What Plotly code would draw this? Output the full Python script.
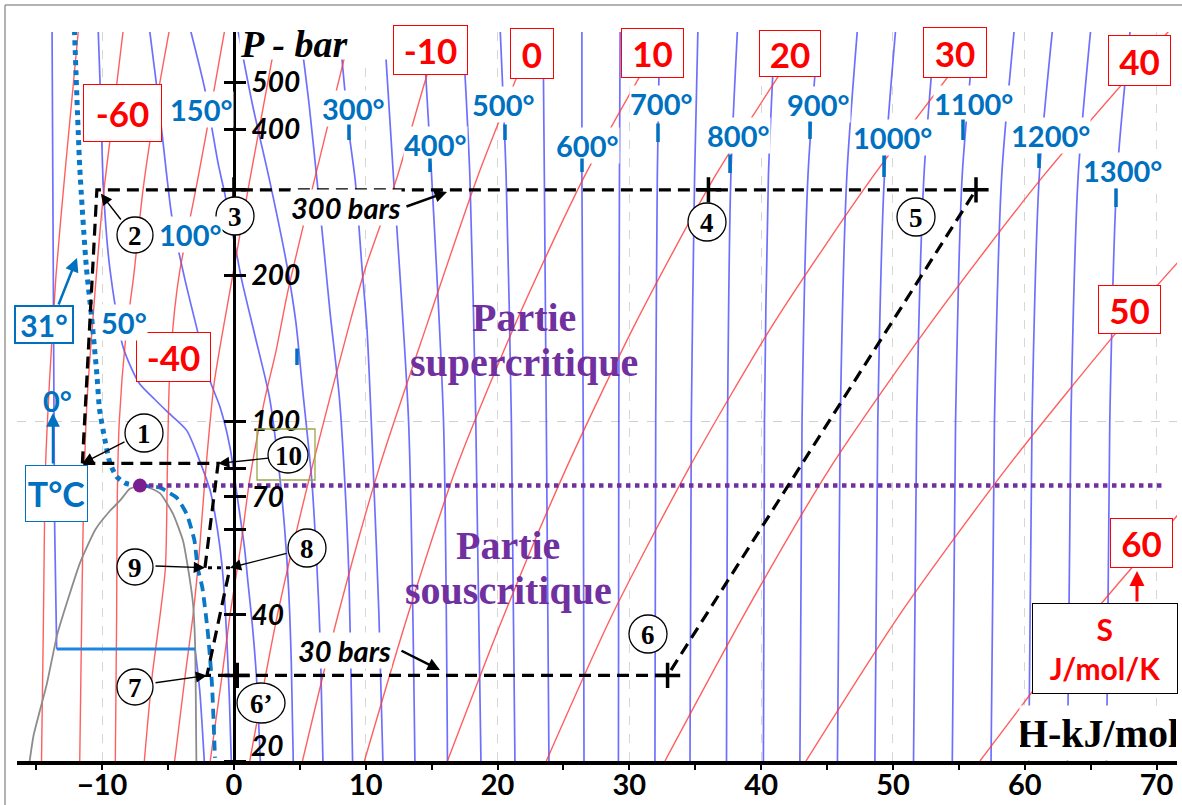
import numpy as np
import plotly.graph_objects as go

# ---------------- figure geometry ----------------
W, HF = 1182, 805
M_L, M_R, M_T, M_B = 17, 5, 32, 44
X_MIN, X_MAX = -16.46, 71.55
LOGP_MIN, LOGP_MAX = np.log10(20.0), 2.802

# ---------------- data ----------------
# hot isotherms (deg C): enthalpy (kJ/mol) at the pressures of hot_P (bar)
hot_T = [350, 400, 450, 500, 550, 600, 650, 700, 750, 800, 850, 900, 950, 1000,
         1050, 1100, 1150, 1200, 1250, 1300]
hot_P = [20, 100, 320, 640]
hot_H = [
    [13.73, 13.25, 12.1, 11.4],
    [16.2, 15.9, 15.0, 14.35],
    [18.74, 18.35, 17.9, 17.35],
    [21.32, 21.05, 20.65, 20.2],
    [23.9, 23.7, 23.55, 23.45],
    [26.56, 26.5, 26.4, 26.4],
    [29.17, 29.2, 29.25, 29.3],
    [31.94, 32.0, 32.12, 32.3],
    [34.6, 34.7, 34.95, 35.2],
    [37.37, 37.45, 37.7, 38.2],
    [40.17, 40.25, 40.55, 41.05],
    [42.94, 43.1, 43.55, 44.35],
    [45.79, 46.0, 46.5, 47.3],
    [48.63, 48.85, 49.35, 50.2],
    [51.56, 51.8, 52.35, 53.2],
    [54.5, 54.75, 55.25, 56.2],
    [57.44, 57.7, 58.25, 59.2],
    [60.3, 60.55, 61.1, 62.1],
    [63.24, 63.5, 64.05, 65.0],
    [66.2, 66.45, 67.0, 68.0],
]

iso50_P = [640, 450, 300, 205, 142, 120, 111, 105, 96, 83, 72, 64.6, 55, 47, 36, 27, 20]
iso50_H = [-10.3, -10.1, -9.9, -9.4, -8.4, -7.2, -6.0, -5.1, -3.6, -2.6, -1.8, -1.45, -1.06, -0.8, -0.55, -0.35, -0.2]
iso100_P = [640, 500, 380, 263, 195, 155, 121, 107, 88.5, 70, 55, 47, 38, 30, 20]
iso100_H = [-6.4, -5.9, -5.4, -4.7, -3.7, -2.8, -1.8, -1.05, -0.3, 0.25, 0.8, 1.05, 1.4, 1.7, 2.0]
iso150_P = [640, 482, 340, 295, 229, 195, 150, 112, 76, 60, 45, 32, 20]
iso150_H = [-3.3, -2.2, -1.2, -0.7, 0.1, 0.6, 1.6, 2.7, 3.5, 3.85, 4.15, 4.35, 4.5]
iso200_P = [640, 450, 314, 211, 160, 117, 76, 50, 35, 20]
iso200_H = [0.3, 1.4, 2.7, 4.0, 4.7, 5.2, 5.9, 6.3, 6.55, 6.75]
iso250_P = [640, 450, 314, 230, 167, 112, 76, 50, 20]
iso250_H = [5.0, 5.7, 6.3, 6.8, 7.3, 8.0, 8.4, 8.7, 9.0]
iso300_P = [640, 400, 314, 210, 154, 76, 40, 20]
iso300_H = [8.0, 8.7, 9.2, 9.7, 10.1, 10.6, 11.0, 11.3]

iso0_liq_P = [34, 60, 100, 640]
iso0_liq_H = [-13.45, -13.6, -13.65, -13.8]
iso0_vap_P = [34, 28, 20]
iso0_vap_H = [-2.95, -2.6, -2.25]
iso0_mix_P = [34, 34]
iso0_mix_H = [-13.45, -2.95]

iso31_sup_P = [640, 334, 208, 164, 125, 106, 92, 82, 77, 74.6, 73.8]
iso31_sup_H = [-12.1, -11.7, -11.2, -10.8, -10.4, -10.2, -9.8, -9.4, -8.9, -8.2, -7.13]
iso31_sub_P = [73.8, 73.1, 71.3, 69.7, 64.6, 56.9, 50, 45.5, 36.5, 28.8, 20.3]
iso31_sub_H = [-7.13, -5.6, -4.9, -4.35, -3.6, -3.0, -2.75, -2.4, -1.97, -1.67, -1.44]

dome_left_P = [20, 22.6, 28.8, 36.5, 43, 51, 60, 65.5, 68.7, 72.7, 73.8]
dome_left_H = [-15.5, -15.2, -14.2, -13.4, -12.6, -11.7, -10.5, -9.4, -8.65, -7.9, -7.13]
dome_right_P = [73.8, 72.8, 71.1, 64.6, 56.9, 50, 42, 35, 28, 20]
dome_right_H = [-7.13, -6.3, -5.6, -4.63, -3.87, -3.49, -3.1, -2.95, -2.9, -2.85]
crit_H, crit_P = [-7.13], [73.8]
pc_line_H = [-7.13, 70.4]
pc_line_P = [73.8, 73.8]

# isentropes (J/mol/K)
sm70_P = [20, 40, 80, 120, 200, 330, 640]
sm70_H = [-14.6, -14.45, -14.3, -14.0, -13.5, -12.8, -11.8]
sm60_P = [20, 40, 70, 110, 150, 285, 390, 640]
sm60_H = [-11.7, -11.55, -11.4, -11.15, -10.8, -9.95, -9.35, -8.4]
sm50_P = [20, 40, 70, 100, 150, 200, 300, 420, 640]
sm50_H = [-9.0, -8.9, -8.85, -8.7, -8.2, -7.6, -6.9, -6.1, -4.9]
sm40_P = [20, 30, 40, 50, 80, 121, 170, 205, 300, 420, 640]
sm40_H = [-6.8, -6.2, -5.6, -5.2, -5.05, -4.9, -4.5, -4.1, -2.9, -1.9, -0.7]
sm30_P = [20, 30, 40, 55, 76, 120, 186, 314, 640]
sm30_H = [-4.5, -3.7, -3.1, -2.6, -2.2, -1.5, -0.3, 1.2, 3.3]
sm20_P = [20, 30, 40, 55, 76, 110, 140, 186, 314, 640]
sm20_H = [-1.8, -0.9, -0.3, 0.5, 1.2, 2.3, 3.2, 4.1, 6.1, 8.9]
sm10_P = [20, 40, 80, 160, 208, 320, 512, 640]
sm10_H = [1.2, 3.3, 5.9, 8.8, 10.0, 12.4, 14.6, 15.8]
gas_S = [0, 10, 20, 30, 40, 50, 60]
gas_P = [20, 40, 80, 160, 320, 640]
gas_H = [
    [5.2, 7.9, 11.0, 14.7, 18.5, 22.9],
    [9.9, 13.2, 16.85, 21.4, 26.6, 32.8],
    [16.2, 20.5, 25.2, 30.5, 36.5, 43.6],
    [23.7, 28.7, 34.5, 41.0, 48.5, 56.9],
    [32.7, 38.7, 45.2, 52.9, 61.4, 71.0],
    [43.4, 50.5, 58.6, 67.6, 77.5],
    [56.6, 65.1, 74.7],
]

# cycle points
cyc_name = ['1', '2', '3', '4', '5', '6', "6'", '7', '8', '9', '10']
cyc_H = [-11.5, -10.4, 0.0, 36.0, 56.3, 32.9, 0.25, -2.05, -0.3, -2.2, -1.2]
cyc_P = [82, 300, 300, 300, 300, 30, 30, 30, 50, 50, 82]
cross_pts = ['3', '4', '5', '6', "6'"]

# axis ticks
x_ticks = [-10, 0, 10, 20, 30, 40, 50, 60, 70]
y_ticks = [20, 40, 60, 70, 80, 100, 200, 400, 500]
y_ticktext = ['', '40', '', '70', '', '100', '200', '400', '500']

# ---------------- helpers ----------------
def data_px(h, p):
    xp = M_L + (h - X_MIN) / (X_MAX - X_MIN) * (W - M_L - M_R)
    yp = M_T + (LOGP_MAX - np.log10(p)) / (LOGP_MAX - LOGP_MIN) * (HF - M_T - M_B)
    return xp, yp

def paper(xp, yp):
    return (xp - M_L) / (W - M_L - M_R), (HF - M_B - yp) / (HF - M_T - M_B)

def pt(name):
    i = cyc_name.index(name)
    return cyc_H[i], cyc_P[i]

fig = go.Figure()

def add_line(h, p, color, width, dash='solid', shape='spline', smoothing=0.7):
    fig.add_trace(go.Scatter(x=h, y=p, mode='lines',
                             line=dict(color=color, width=width, dash=dash, shape=shape,
                                       smoothing=smoothing),
                             hoverinfo='skip', showlegend=False))

BLUE_ISO = 'rgba(75,75,255,0.8)'
RED_ISO = 'rgba(255,55,55,0.8)'

# isotherms
for row in hot_H:
    add_line(row, hot_P, BLUE_ISO, 1.7)
for hh, pp in [(iso50_H, iso50_P), (iso100_H, iso100_P), (iso150_H, iso150_P),
               (iso200_H, iso200_P), (iso250_H, iso250_P), (iso300_H, iso300_P),
               (iso0_liq_H, iso0_liq_P), (iso0_vap_H, iso0_vap_P)]:
    add_line(hh, pp, BLUE_ISO, 1.7)

# isentropes
for hh, pp in [(sm70_H, sm70_P), (sm60_H, sm60_P), (sm50_H, sm50_P), (sm40_H, sm40_P),
               (sm30_H, sm30_P), (sm20_H, sm20_P), (sm10_H, sm10_P)]:
    add_line(hh, pp, RED_ISO, 1.4)
for row in gas_H:
    add_line(row, gas_P[:len(row)], RED_ISO, 1.4)

# saturation dome
add_line(dome_left_H + dome_right_H[1:], dome_left_P + dome_right_P[1:], '#8c8c8c', 1.8, smoothing=0.5)

# 0 deg C across the dome
add_line(iso0_mix_H, iso0_mix_P, '#1f86e0', 3, shape='linear')
# 31 deg C isotherm
add_line(iso31_sup_H, iso31_sup_P, '#0a78c8', 5, dash='dot', smoothing=0.6)
add_line(iso31_sub_H, iso31_sub_P, '#0a78c8', 3.8, dash='10px,6px', smoothing=0.6)
# critical pressure line and point
add_line(pc_line_H, pc_line_P, '#7030a0', 4.5, dash='dot', shape='linear')
fig.add_trace(go.Scatter(x=crit_H, y=crit_P, mode='markers',
                         marker=dict(color='#7a1f8f', size=14), hoverinfo='skip', showlegend=False))

# cycle
path_a = ['1', '2', '5', '6', '7', '8']
path_b = ['8', '9']
path_c = ['9', '10', '1']
for path, dash in [(path_a, '12px,7px'), (path_b, '4px,5px'), (path_c, '12px,7px')]:
    fig.add_trace(go.Scatter(x=[pt(n)[0] for n in path], y=[pt(n)[1] for n in path],
                             mode='lines', line=dict(color='black', width=3.2, dash=dash),
                             hoverinfo='skip', showlegend=False))
fig.add_trace(go.Scatter(x=[pt(n)[0] for n in cross_pts], y=[pt(n)[1] for n in cross_pts],
                         mode='markers',
                         marker=dict(symbol='cross-thin', size=18, line=dict(color='black', width=3.5)),
                         hoverinfo='skip', showlegend=False))
# dummy on the second y axis so the left-side ticks are drawn
fig.add_trace(go.Scatter(x=[0], y=[100], yaxis='y2', mode='markers',
                         marker=dict(opacity=0), hoverinfo='skip', showlegend=False))

# ---------------- annotations ----------------
ann = []
shapes = []
SERIF = 'Liberation Serif'
SANS = 'Lato'
LBLUE = '#0070c0'

def text_px(txt, xp, yp, size, color='black', family=SANS, weight='bold', style='normal',
            bg=None, width=None, height=None, border=None, bw=0, align='center'):
    x, y = paper(xp, yp)
    d = dict(x=x, y=y, xref='paper', yref='paper', text=txt, showarrow=False,
             font=dict(family=family, size=size, color=color, weight=weight, style=style),
             xanchor='center', yanchor='middle', borderpad=0, align=align)
    if bg:
        d['bgcolor'] = bg
    if width:
        d['width'] = width
    if height:
        d['height'] = height
    if border:
        d['bordercolor'] = border
        d['borderwidth'] = bw
    ann.append(d)

def arrow_px(x_head, y_head, x_tail, y_tail, color='black', width=1.5, head=2, size=1.2, text=''):
    x, y = paper(x_head, y_head)
    ann.append(dict(x=x, y=y, xref='paper', yref='paper', ax=x_tail - x_head, ay=y_tail - y_head,
                    text=text, showarrow=True, arrowhead=head, arrowsize=size, arrowwidth=width,
                    arrowcolor=color))

# white cover boxes under the axis titles
text_px('<i>P - bar</i>', 316, 44, 38, family=SERIF, bg='white', width=152, height=30, align='left')
text_px('H-kJ/mol', 1098, 733, 40, family=SERIF, bg='white', width=156, height=54)

# bottom pressure label sits just above the axis
text_px('<i>20</i>', 267, 745, 28, 'black')

# phase region labels
PURPLE = '#7030a0'
text_px('Partie', 524, 318, 40, PURPLE, SERIF)
text_px('supercritique', 524, 362, 40, PURPLE, SERIF)
text_px('Partie', 508, 545, 40, PURPLE, SERIF)
text_px('souscritique', 508, 590, 40, PURPLE, SERIF)

# isentrope labels (red boxes)
red_boxes = [('-60', 83, 84, 162, 142), ('-40', 136, 332, 211, 382), ('-10', 393, 25, 468, 75),
             ('0', 510, 28, 554, 79), ('10', 621, 28, 684, 78), ('20', 759, 30, 821, 77),
             ('30', 923, 27, 987, 78), ('40', 1108, 35, 1171, 86), ('50', 1098, 285, 1161, 334),
             ('60', 1110, 518, 1173, 568)]
for t, x0, y0, x1, y1 in red_boxes:
    text_px(t, (x0 + x1) / 2, (y0 + y1) / 2, 35, 'red', bg='white', width=x1 - x0 - 2,
            height=y1 - y0 - 2, border='red', bw=1)

# S unit box
text_px('S<br>J/mol/K', 1105, 648, 30, 'red', bg='white', width=144, height=89, border='black', bw=1)
arrow_px(1137, 571, 1137, 603, color='red', width=3, head=2, size=1.0)

# isotherm labels with their tick marks
iso_labels = [('150°', 201, 110), ('100°', 190, 234), ('50°', 124, 322)]
for t, x, y in iso_labels:
    text_px(t, x, y, 29, LBLUE, bg='white')
iso_ticked = [('300°', 353, 108, 349, 123, 140), ('400°', 435, 144, 430, 157, 172),
              ('500°', 503, 105, 505, 123, 140), ('600°', 587, 145, 582, 157, 172),
              ('700°', 661, 103, 658, 122, 142), ('800°', 738, 135, 730, 153, 173),
              ('900°', 818, 105, 810, 120, 139), ('1000°', 892, 138, 884, 154, 177),
              ('1100°', 973, 103, 963, 118, 140), ('1200°', 1050, 135, 1039, 152, 168),
              ('1300°', 1122, 170, 1116, 187, 207)]
for t, x, y, tx, ty0, ty1 in iso_ticked:
    text_px(t, x, y, 29, LBLUE, bg='white')
    arrow_px(tx, ty1, tx, ty0, color=LBLUE, width=3.5, head=0)
arrow_px(297, 365, 297, 347, color=LBLUE, width=3.5, head=0)

# 31 deg and T degC boxes
text_px('31°', 44, 324, 30, LBLUE, bg='white', width=56, height=35, border=LBLUE, bw=2)
arrow_px(77, 258, 58, 306, color=LBLUE, width=2.5, head=2, size=1.1)
text_px('T°C', 56, 493, 34, LBLUE, bg='white', width=61, height=55, border=LBLUE, bw=1)
text_px('0°', 57, 400, 29, LBLUE)
arrow_px(53, 413, 53, 465, color=LBLUE, width=2.5, head=2, size=1.1)

# pressure level labels
text_px('<i>300 bars</i>', 346, 207, 29, 'black', bg='white')
arrow_px(447, 192, 405, 207, width=2.5, head=2, size=1.0)
text_px('<i>30 bars</i>', 344, 650, 29, 'black', bg='white')
arrow_px(440, 670, 400, 650, width=2.5, head=2, size=1.0)

# circled point numbers
circles = [('1', 144, 433, 19, 19), ('2', 135, 235, 18, 18), ('3', 235, 216, 19, 19),
           ('4', 707, 222, 19, 19), ('5', 916, 217, 19, 19), ('6', 648, 634, 19, 19),
           ("6’", 261, 703, 24, 20), ('7', 135, 687, 18, 18), ('8', 307, 548, 19, 19),
           ('9', 135, 567, 18, 18), ('10', 288, 455, 20, 18)]
for t, cx, cy, rx, ry in circles:
    x0, y0 = paper(cx - rx, cy + ry)
    x1, y1 = paper(cx + rx, cy - ry)
    shapes.append(dict(type='circle', xref='paper', yref='paper', x0=x0, y0=y0, x1=x1, y1=y1,
                       line=dict(color='black', width=1.3), fillcolor='white', layer='above'))
    text_px(t, cx, cy + 1, 27, 'black', SERIF)

# olive frame round label 10
ox0, oy0 = paper(257, 480)
ox1, oy1 = paper(315, 429)
shapes.append(dict(type='rect', xref='paper', yref='paper', x0=ox0, y0=oy0, x1=ox1, y1=oy1,
                   line=dict(color='#9aa84a', width=1.3), layer='above'))

# arrows from circled numbers to the cycle points
circle_arrows = [('1', 126, 441), ('2', 122, 221), ('7', 154, 683), ('8', 288, 553),
                 ('9', 154, 566), ('10', 270, 458)]
for n, tx, ty in circle_arrows:
    hx, hy = data_px(*pt(n))
    if n == '2':
        hx, hy = hx + 4, hy + 4
    arrow_px(hx, hy, tx, ty, width=1.4, head=2, size=1.6)

# horizontal dashed grid line at 100 bar
_, g100 = paper(0, data_px(0, 100)[1])
shapes.append(dict(type='line', xref='paper', yref='paper', x0=0, x1=1, y0=g100, y1=g100,
                   line=dict(color='#d0d0d0', width=1, dash='dash'), layer='below'))
# picture frame (top and left)
fx0, fy0 = paper(5, 5)
fx1, _ = paper(1182, 5)
_, fyb = paper(5, 805)
shapes.append(dict(type='line', xref='paper', yref='paper', x0=fx0, x1=fx1, y0=fy0, y1=fy0,
                   line=dict(color='#999999', width=1.5), layer='below'))
shapes.append(dict(type='line', xref='paper', yref='paper', x0=fx0, x1=fx0, y0=fy0, y1=fyb,
                   line=dict(color='#999999', width=1.5), layer='below'))

pos0 = (0 - X_MIN) / (X_MAX - X_MIN)

fig.update_layout(
    width=W, height=HF, margin=dict(l=M_L, r=M_R, t=M_T, b=M_B, autoexpand=False),
    paper_bgcolor='white', plot_bgcolor='white', showlegend=False,
    xaxis=dict(range=[X_MIN, X_MAX], tickvals=x_ticks, ticks='outside', ticklen=5, tickwidth=2,
               tickcolor='black', showline=True, linewidth=3.5, linecolor='black', automargin=False,
               showgrid=True, gridcolor='#d6d6d6', griddash='dash', gridwidth=1, zeroline=False,
               ticklabelstandoff=-10,
               tickfont=dict(family=SANS, size=29, color='black', weight='bold'),
               minor=dict(dtick=5, ticks='outside', ticklen=5, tickwidth=1.5, tickcolor='black',
                          showgrid=False)),
    yaxis=dict(type='log', range=[LOGP_MIN, LOGP_MAX], anchor='free', position=pos0, side='right',
               tickvals=y_ticks, ticktext=y_ticktext, ticks='outside', ticklen=10, tickwidth=2.5,
               tickcolor='black', showline=True, linewidth=3, linecolor='black', showgrid=False,
               zeroline=False, automargin=False,
               tickfont=dict(family=SANS, size=28, color='black', weight='bold', style='italic')),
    yaxis2=dict(type='log', range=[LOGP_MIN, LOGP_MAX], overlaying='y', anchor='free',
                position=pos0, side='left', tickvals=y_ticks, ticks='outside', ticklen=10,
                tickwidth=2.5, tickcolor='black', showticklabels=False, showline=False,
                showgrid=False, zeroline=False, automargin=False),
    annotations=ann, shapes=shapes,
)

fig.write_html('out.html')
